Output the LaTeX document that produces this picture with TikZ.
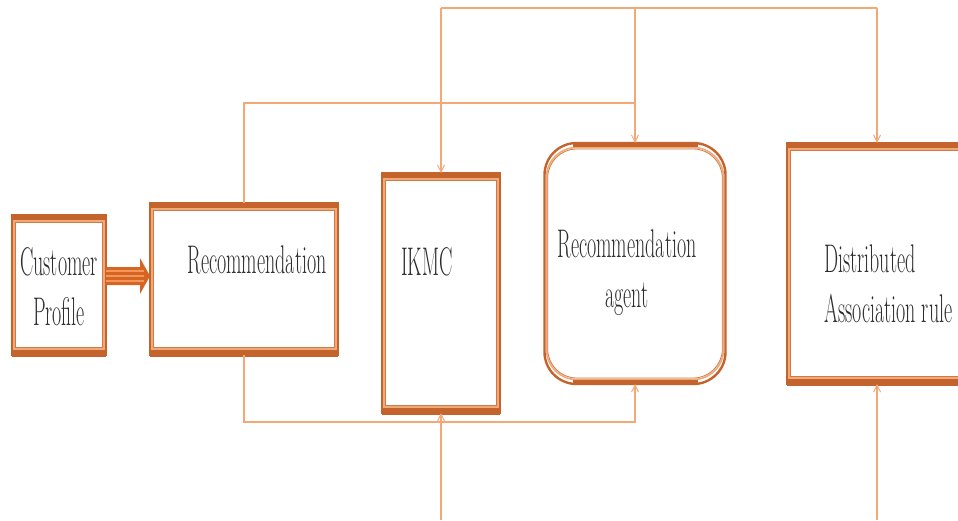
\documentclass[tikz,border=0pt]{standalone}
\usetikzlibrary{arrows.meta}
\definecolor{edgedark}{RGB}{196,100,44}
\definecolor{edgelight}{RGB}{238,170,120}
\definecolor{edgeinner}{RGB}{210,120,66}
\definecolor{linkc}{RGB}{244,168,118}
\definecolor{arrowfill}{RGB}{214,100,34}
\definecolor{arrowstripe}{RGB}{242,150,90}
\definecolor{inkc}{RGB}{45,45,45}
\newcommand\cond[1]{\scalebox{0.5}[1]{#1}}
\tikzset{
  blank/.style={inner sep=0pt, outer sep=0pt, minimum width=#1},
  lbl/.style={inner sep=0pt, text=inkc, font=\fontsize{40}{50}\selectfont},
  link/.style={draw=linkc, line width=1.1pt},
  tolink/.style={link, -{Straight Barb[length=7pt,width=7pt,line width=1pt]}},
}
\begin{document}
\begin{tikzpicture}[x=1pt, y=-1pt]
\useasboundingbox (0,0) rectangle (958,520);
\clip (0,0) rectangle (958,520);

% boxes
\node[blank=94pt, minimum height=140pt] (cust) at (59,285) {};
\node[blank=188pt, minimum height=152pt] (rec) at (244,279) {};
\node[blank=118pt, minimum height=240pt] (ikmc) at (441,293) {};
\node[blank=181pt, minimum height=241pt, rounded corners=32pt] (agent) at (635,263.5) {};
\node[blank=180pt, minimum height=241pt] (dar) at (877,263.5) {};

% layered borders: dark outer line, light band, thin inner line; heavy top and bottom bars
\foreach \n in {cust,rec,ikmc,dar}{
  \fill[edgedark] ([yshift=1pt]\n.north west) rectangle ([yshift=-5pt]\n.north east);
  \fill[edgedark] ([yshift=-1.5pt]\n.south west) rectangle ([yshift=5pt]\n.south east);
  \draw[edgelight, line width=1.6pt] ([shift={(2pt,-6pt)}]\n.north west) rectangle ([shift={(-2pt,6pt)}]\n.south east);
  \draw[edgeinner, line width=0.8pt] ([shift={(3.2pt,-7.2pt)}]\n.north west) rectangle ([shift={(-3.2pt,7.2pt)}]\n.south east);
  \draw[edgedark, line width=2.2pt] (\n.north west) rectangle (\n.south east);
}
% rounded agent box
\draw[edgelight, line width=1.6pt, rounded corners=30pt] ([shift={(2pt,-4.5pt)}]agent.north west) rectangle ([shift={(-2pt,4.5pt)}]agent.south east);
\draw[edgeinner, line width=0.8pt, rounded corners=29pt] ([shift={(3.2pt,-6pt)}]agent.north west) rectangle ([shift={(-3.2pt,6pt)}]agent.south east);
\draw[edgedark, line width=2.4pt, rounded corners=32pt] (agent.north west) rectangle (agent.south east);
\draw[edgedark, line width=4.5pt] ([xshift=28pt,yshift=-1.5pt]agent.north west) -- ([xshift=-28pt,yshift=-1.5pt]agent.north east);
\draw[edgedark, line width=5pt] ([xshift=28pt,yshift=1.2pt]agent.south west) -- ([xshift=-28pt,yshift=1.2pt]agent.south east);

% labels
\node[lbl] (tcust) at (59,290) {\cond{\begin{tabular}{@{}c@{}}Customer\\Profile\end{tabular}}};
\node[lbl] (trec) at (257,260) {\cond{Recommendation}};
\node[lbl] (tikmc) at (427,262) {\cond{IKMC}};
\node[lbl] (tagent) at (627,272) {\cond{\begin{tabular}{@{}c@{}}Recommendation\\agent\end{tabular}}};
\node[lbl, anchor=west] (tdar) at (824,287) {\cond{\begin{tabular}{@{}l@{}}Distributed\\Association rule\end{tabular}}};

% thick striped arrow from profile to recommendation
\coordinate (a0) at (cust.east |- 0,276);
\coordinate (a1) at (rec.west |- 0,276);
\fill[arrowfill] ([yshift=9pt]a0) -- ([shift={(-10pt,9pt)}]a1) -- ([shift={(-10pt,18pt)}]a1)
  -- (a1) -- ([shift={(-10pt,-18pt)}]a1) -- ([shift={(-10pt,-9pt)}]a1) -- ([yshift=-9pt]a0) -- cycle;
\foreach \d in {-5,0,5}
  \draw[arrowstripe, line width=1.3pt] ([yshift=\d pt]a0) -- ([shift={(-6pt,\d pt)}]a1);

% connectors above the boxes
\coordinate (t1) at (ikmc.north |- 0,8);
\coordinate (t2) at (agent.north |- 0,8);
\coordinate (t3) at (dar.north |- 0,8);
\draw[link] (t1) -- (t3);
\draw[tolink] (t1) -- (ikmc.north);
\draw[tolink] (t2) -- (agent.north);
\draw[tolink] (t3) -- (dar.north);
\draw[link] (rec.north) |- (agent.north |- 0,103);

% connectors below the boxes
\draw[tolink] (rec.south) -- ++(0,67) -| (agent.south);
\coordinate (b1) at (ikmc.south |- 0,520);
\coordinate (b2) at (dar.south |- 0,520);
\draw[tolink] (b1) -- (ikmc.south);
\draw[tolink] (b2) -- (dar.south);
\end{tikzpicture}
\end{document}
